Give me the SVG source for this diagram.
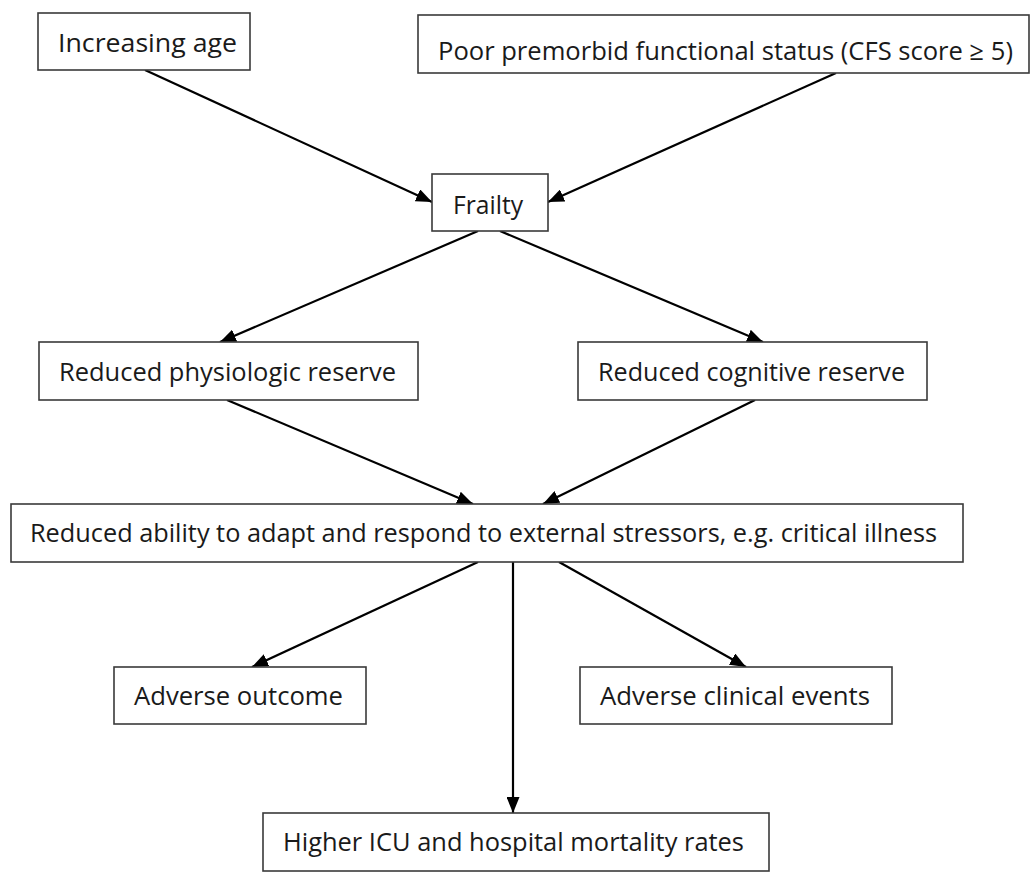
<svg xmlns="http://www.w3.org/2000/svg" width="1031" height="873" viewBox="0 0 1031 873">
<style>
.box{fill:#ffffff;stroke:#3a3a3a;stroke-width:1.6}
.lbl{font-family:"Open Sans","Noto Sans","Liberation Sans",sans-serif;font-size:25.5px;fill:#1a1a1a}
.con{stroke:#000;stroke-width:2.2;fill:none;marker-end:url(#ah)}
</style>
<defs>
<marker id="ah" markerUnits="userSpaceOnUse" markerWidth="17" markerHeight="13" refX="16" refY="6.5" orient="auto">
<path d="M0,0 L16,6.5 L0,13 z" fill="#000"/>
</marker>
</defs>
<rect width="1031" height="873" fill="#ffffff"/>
<g id="connectors">
<line class="con" x1="145" y1="70" x2="432" y2="202"/>
<line class="con" x1="836" y1="73" x2="548" y2="202"/>
<line class="con" x1="478" y1="231" x2="220" y2="342"/>
<line class="con" x1="500" y1="231" x2="763" y2="342"/>
<line class="con" x1="227" y1="400" x2="473" y2="504"/>
<line class="con" x1="755" y1="400" x2="543" y2="504"/>
<line class="con" x1="478" y1="562" x2="252" y2="667"/>
<line class="con" x1="513" y1="562" x2="513" y2="813"/>
<line class="con" x1="559" y1="562" x2="746" y2="667"/>
</g>
<g id="n1"><rect class="box" x="38" y="13" width="212" height="57"/><text class="lbl" x="58" y="52" textLength="179" lengthAdjust="spacingAndGlyphs">Increasing age</text></g>
<g id="n2"><rect class="box" x="418" y="15" width="611" height="58"/><text class="lbl" x="438" y="60" textLength="575" lengthAdjust="spacingAndGlyphs">Poor premorbid functional status (CFS score ≥ 5)</text></g>
<g id="n3"><rect class="box" x="432" y="174" width="116" height="57"/><text class="lbl" x="453" y="214" textLength="70" lengthAdjust="spacingAndGlyphs">Frailty</text></g>
<g id="n4"><rect class="box" x="39" y="342" width="379" height="58"/><text class="lbl" x="59" y="381" textLength="337" lengthAdjust="spacingAndGlyphs">Reduced physiologic reserve</text></g>
<g id="n5"><rect class="box" x="578" y="342" width="349" height="58"/><text class="lbl" x="598" y="381" textLength="307" lengthAdjust="spacingAndGlyphs">Reduced cognitive reserve</text></g>
<g id="n6"><rect class="box" x="11" y="504" width="952" height="58"/><text class="lbl" x="30" y="542" textLength="907" lengthAdjust="spacingAndGlyphs">Reduced ability to adapt and respond to external stressors, e.g. critical illness</text></g>
<g id="n7"><rect class="box" x="114" y="667" width="252" height="57"/><text class="lbl" x="134" y="705" textLength="209" lengthAdjust="spacingAndGlyphs">Adverse outcome</text></g>
<g id="n8"><rect class="box" x="580" y="667" width="312" height="57"/><text class="lbl" x="600" y="705" textLength="270" lengthAdjust="spacingAndGlyphs">Adverse clinical events</text></g>
<g id="n9"><rect class="box" x="263" y="813" width="506" height="58"/><text class="lbl" x="283" y="851" textLength="461" lengthAdjust="spacingAndGlyphs">Higher ICU and hospital mortality rates</text></g>
</svg>
